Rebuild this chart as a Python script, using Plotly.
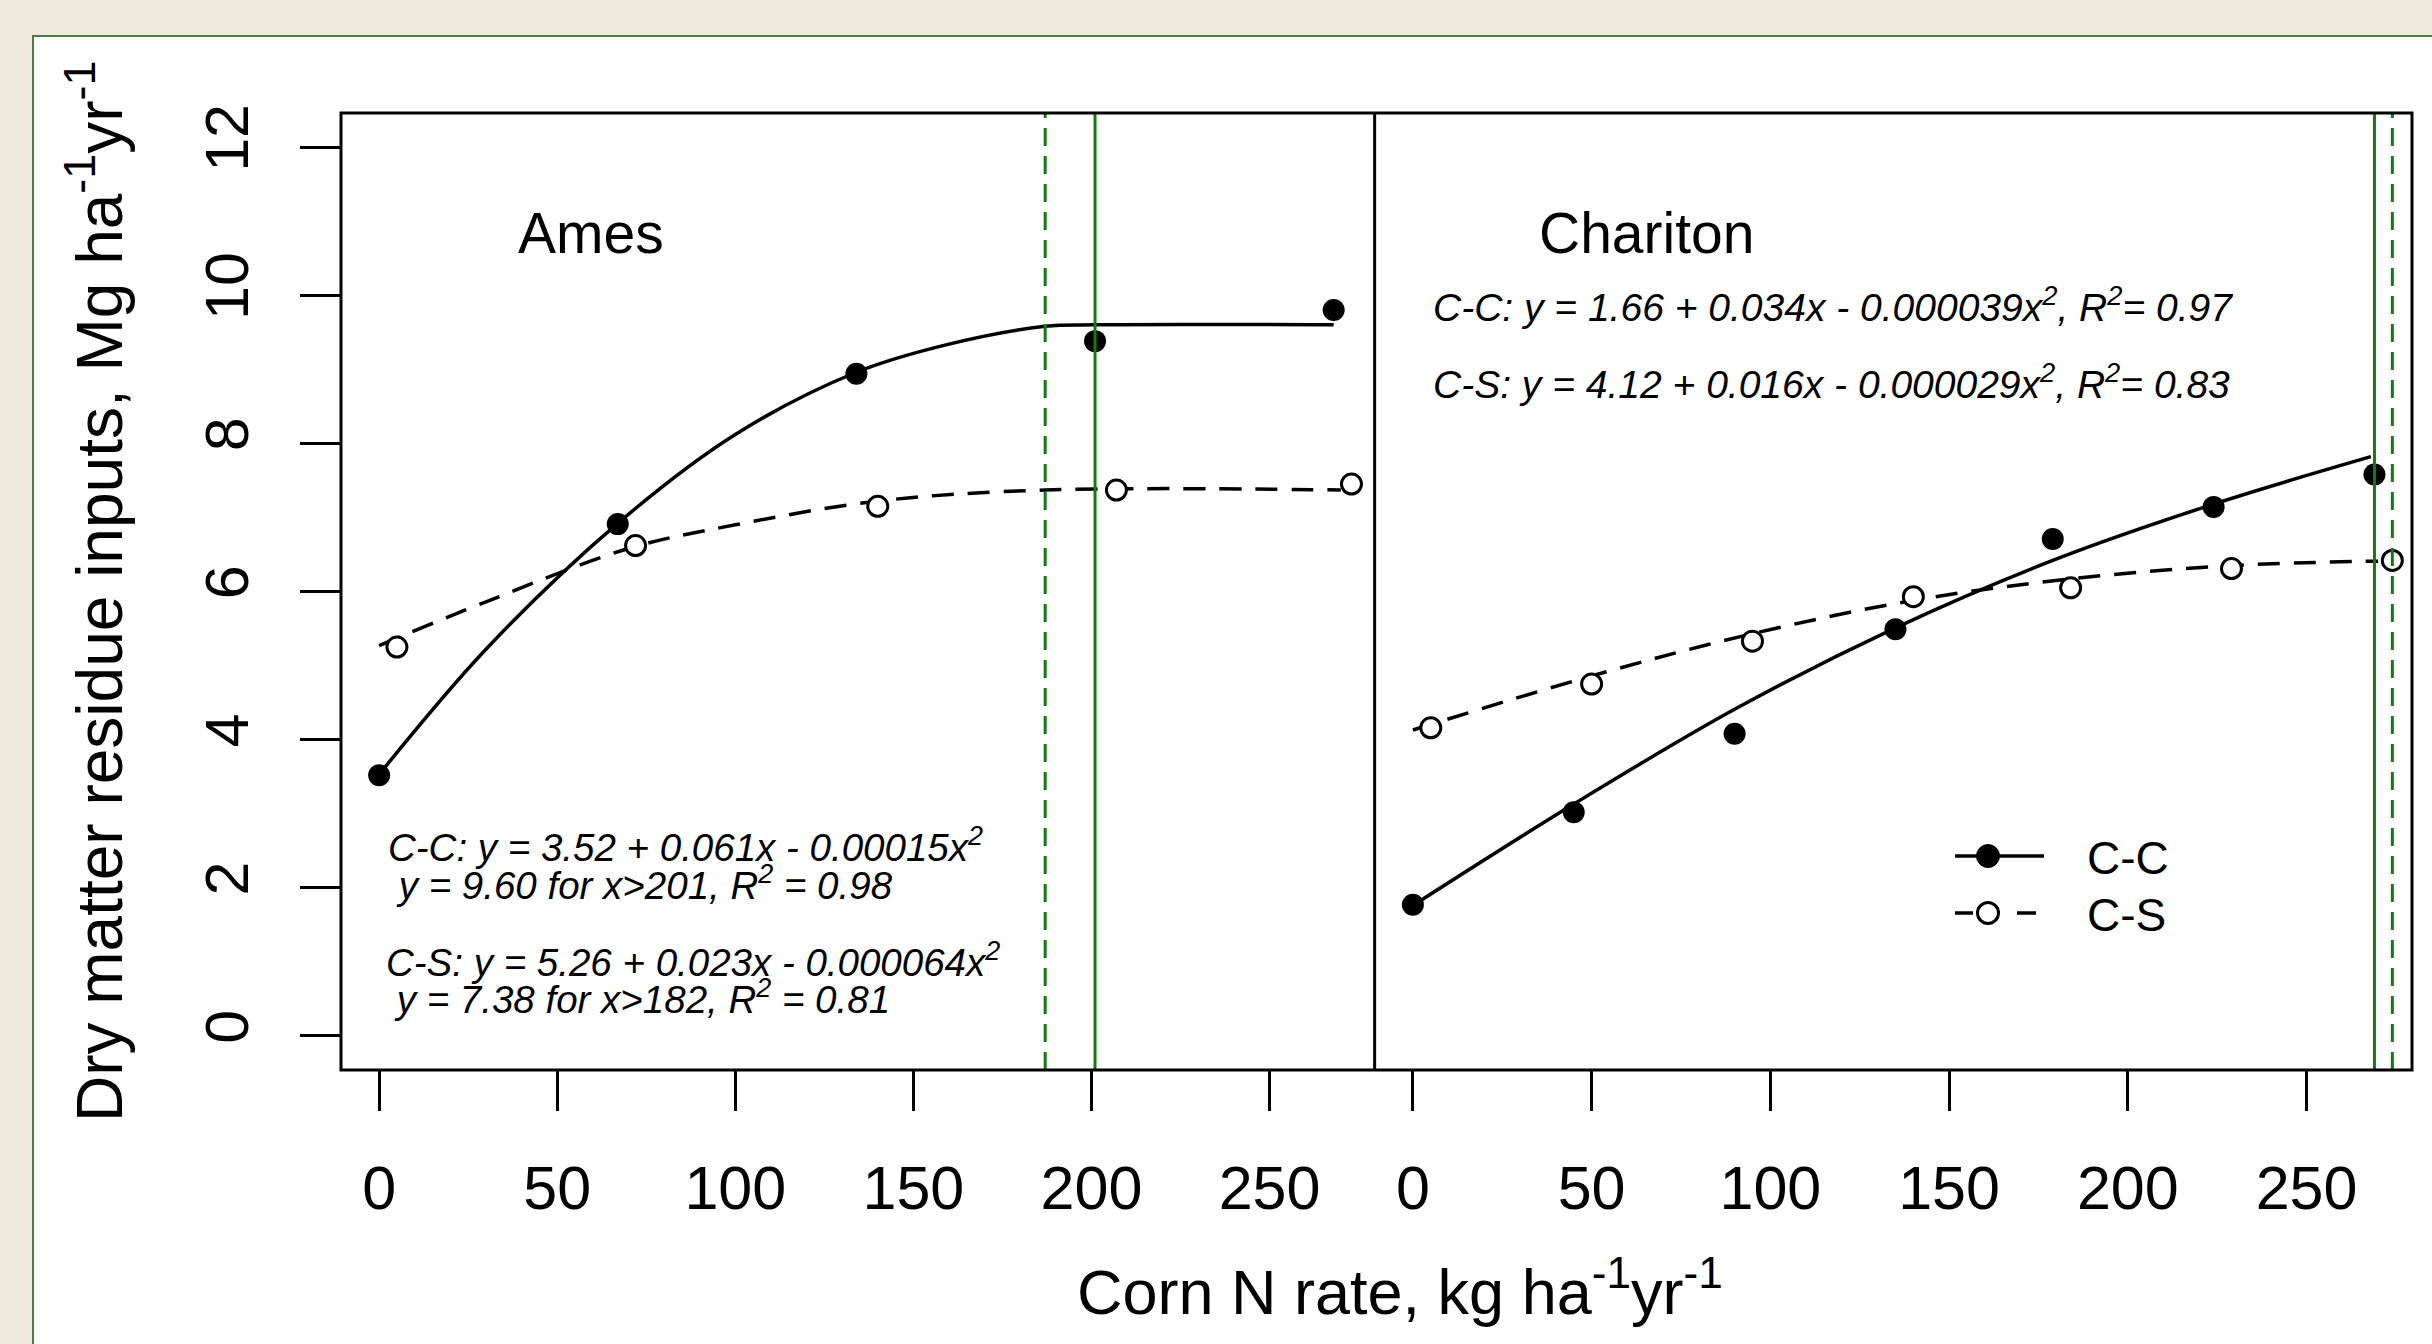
import plotly.graph_objects as go

# ---------------- data ----------------
x_ticks = [0, 50, 100, 150, 200, 250]
y_ticks = [0, 2, 4, 6, 8, 10, 12]

# observed points (C-S points are drawn slightly offset to the right)
ames_cc_n = [0, 67, 134, 201, 268]
ames_cc_y = [3.52, 6.91, 8.94, 9.38, 9.80]
ames_cs_n = [5, 72, 140, 207, 273]
ames_cs_y = [5.25, 6.62, 7.15, 7.37, 7.45]

char_cc_n = [0, 45, 90, 135, 179, 224, 269]
char_cc_y = [1.77, 3.02, 4.08, 5.49, 6.71, 7.14, 7.58]
char_cs_n = [5, 50, 95, 140, 184, 229, 274]
char_cs_y = [4.16, 4.75, 5.33, 5.93, 6.05, 6.31, 6.42]

# fitted response curves
ames_cc_fit_n = [0, 30, 67, 100, 134, 160, 187, 201, 268]
ames_cc_fit_y = [3.53, 5.22, 6.92, 8.12, 8.96, 9.34, 9.58, 9.60, 9.60]
ames_cs_fit_n = [0, 30, 70, 100, 140, 187, 270]
ames_cs_fit_y = [5.27, 5.86, 6.58, 6.90, 7.22, 7.37, 7.37]

char_cc_fit_n = [0, 45, 90, 135, 179, 224, 268]
char_cc_fit_y = [1.76, 3.13, 4.41, 5.51, 6.42, 7.18, 7.82]
char_cs_fit_n = [0, 50, 95, 140, 184, 229, 270]
char_cs_fit_y = [4.13, 4.86, 5.43, 5.88, 6.17, 6.35, 6.41]

# vertical green reference lines (N rates)
ames_cc_vline = 201
ames_cs_vline = 187
char_cc_vline = 269
char_cs_vline = 274

legend_names = ["C-C", "C-S"]

ames_eq = ["C-C: y = 3.52 + 0.061x - 0.00015x<sup>2</sup>",
           " y = 9.60 for x>201, R<sup>2</sup> = 0.98",
           "C-S: y = 5.26 + 0.023x - 0.000064x<sup>2</sup>",
           " y = 7.38 for x>182, R<sup>2</sup> = 0.81"]
char_eq = ["C-C: y = 1.66 + 0.034x - 0.000039x<sup>2</sup>, R<sup>2</sup>= 0.97",
           "C-S: y = 4.12 + 0.016x - 0.000029x<sup>2</sup>, R<sup>2</sup>= 0.83"]

# ---------------- styling ----------------
FONT = "Liberation Sans, Arial, sans-serif"
BLACK = "#000000"
GREEN = "#147a14"
W, H = 2432, 1344
ML, MR, MT, MB = 341, 20, 113, 274
PW, PH = W - ML - MR, H - MT - MB
SPLIT = 0.4991
XR = [-10.7, 279.5]
YR = [-0.46, 12.46]
DASH = "22px,14px"


def px_x(px):
    return (px - ML) / PW


def px_y(py):
    return (H - MB - py) / PH


fig = go.Figure()


def curve(x, y, xa, dash):
    fig.add_trace(go.Scatter(x=x, y=y, xaxis=xa, yaxis="y", mode="lines",
                             line=dict(color=BLACK, width=3.5, dash=dash, shape="spline"),
                             showlegend=False, hoverinfo="skip"))


def pts(x, y, xa, filled):
    if filled:
        mk = dict(symbol="circle", size=22, color=BLACK, line=dict(width=0))
    else:
        mk = dict(symbol="circle", size=20, color="white", line=dict(width=3, color=BLACK))
    fig.add_trace(go.Scatter(x=x, y=y, xaxis=xa, yaxis="y", mode="markers",
                             marker=mk, showlegend=False))


curve(ames_cc_fit_n, ames_cc_fit_y, "x", "solid")
curve(ames_cs_fit_n, ames_cs_fit_y, "x", DASH)
curve(char_cc_fit_n, char_cc_fit_y, "x2", "solid")
curve(char_cs_fit_n, char_cs_fit_y, "x2", DASH)
pts(ames_cc_n, ames_cc_y, "x", True)
pts(ames_cs_n, ames_cs_y, "x", False)
pts(char_cc_n, char_cc_y, "x2", True)
pts(char_cs_n, char_cs_y, "x2", False)

shapes = []
# white panel with thin green frame on beige background
shapes.append(dict(type="rect", xref="paper", yref="paper", layer="below",
                   x0=px_x(33), x1=1.2, y0=-0.5, y1=px_y(36),
                   fillcolor="white", line=dict(color="#4f7a3f", width=2)))
# green reference lines
for xa, v, d in [("x", ames_cs_vline, "18px,10px"), ("x", ames_cc_vline, "solid"),
                 ("x2", char_cc_vline, "solid"), ("x2", char_cs_vline, "18px,10px")]:
    shapes.append(dict(type="line", xref=xa, yref="paper", x0=v, x1=v, y0=0, y1=1,
                       line=dict(color=GREEN, width=3, dash=d)))
# plot box and panel divider
shapes.append(dict(type="rect", xref="paper", yref="paper", x0=0, x1=1, y0=0, y1=1,
                   line=dict(color=BLACK, width=3)))
shapes.append(dict(type="line", xref="paper", yref="paper", x0=SPLIT, x1=SPLIT, y0=0, y1=1,
                   line=dict(color=BLACK, width=3)))

# ---- hand-drawn legend (R style) ----
LEG_Y = [856, 913]
shapes.append(dict(type="line", xref="paper", yref="paper", x0=px_x(1955), x1=px_x(2044),
                   y0=px_y(LEG_Y[0]), y1=px_y(LEG_Y[0]), line=dict(color=BLACK, width=3.5)))
for a, b in [(1955, 1973), (2017, 2036)]:
    shapes.append(dict(type="line", xref="paper", yref="paper", x0=px_x(a), x1=px_x(b),
                       y0=px_y(LEG_Y[1]), y1=px_y(LEG_Y[1]), line=dict(color=BLACK, width=3.5)))
shapes.append(dict(type="circle", xref="paper", yref="paper", xsizemode="pixel", ysizemode="pixel",
                   xanchor=px_x(1988), yanchor=px_y(LEG_Y[0]), x0=-11.5, x1=11.5, y0=-11.5, y1=11.5,
                   fillcolor=BLACK, line=dict(color=BLACK, width=1)))
shapes.append(dict(type="circle", xref="paper", yref="paper", xsizemode="pixel", ysizemode="pixel",
                   xanchor=px_x(1988), yanchor=px_y(LEG_Y[1]), x0=-10.5, x1=10.5, y0=-10.5, y1=10.5,
                   fillcolor="white", line=dict(color=BLACK, width=3)))

ann = []
for name, yy in zip(legend_names, [858, 915]):
    ann.append(dict(text=name, xref="paper", yref="paper", x=px_x(2085), y=px_y(yy), showarrow=False,
                    xanchor="left", yanchor="middle", font=dict(size=46, color=BLACK, family=FONT)))

ann.append(dict(text="Ames", xref="x", yref="y", x=59.6, y=10.84, showarrow=False,
                xanchor="center", yanchor="middle", font=dict(size=57, color=BLACK, family=FONT)))
ann.append(dict(text="Chariton", xref="x2", yref="y", x=65.3, y=10.84, showarrow=False,
                xanchor="center", yanchor="middle", font=dict(size=57, color=BLACK, family=FONT)))
for txt, xx, yy in zip(ames_eq, [2.0, 2.0, 1.3, 1.3], [2.58, 2.06, 1.03, 0.53]):
    ann.append(dict(text="<i>" + txt + "</i>", xref="x", yref="y", x=xx, y=yy, showarrow=False,
                    xanchor="left", yanchor="middle", font=dict(size=38.5, color=BLACK, family=FONT)))
for txt, yy in zip(char_eq, [9.87, 8.84]):
    ann.append(dict(text="<i>" + txt + "</i>", xref="x2", yref="y", x=5.1, y=yy, showarrow=False,
                    xanchor="left", yanchor="middle", font=dict(size=39, color=BLACK, family=FONT)))
# axis titles
ann.append(dict(text="Dry matter residue inputs, Mg ha<sup>-1</sup>yr<sup>-1</sup>",
                xref="paper", yref="paper", x=px_x(95), y=px_y(592),
                textangle=-90, showarrow=False, xanchor="center", yanchor="middle",
                font=dict(size=64, color=BLACK, family=FONT)))
ann.append(dict(text="Corn N rate, kg ha<sup>-1</sup>yr<sup>-1</sup>",
                xref="paper", yref="paper", x=px_x(1400), y=px_y(1287),
                showarrow=False, xanchor="center", yanchor="middle",
                font=dict(size=63, color=BLACK, family=FONT)))

xcommon = dict(range=XR, tickvals=x_ticks, ticks="outside", ticklen=40, tickwidth=3,
               tickcolor=BLACK, showgrid=False, zeroline=False, showline=False,
               tickfont=dict(size=61, color=BLACK, family=FONT), ticklabelstandoff=25)

fig.update_layout(
    width=W, height=H,
    margin=dict(l=ML, r=MR, t=MT, b=MB, pad=0),
    paper_bgcolor="#f0e9dd", plot_bgcolor="white",
    xaxis=dict(domain=[0, SPLIT], anchor="y", **xcommon),
    xaxis2=dict(domain=[SPLIT, 1], anchor="y", **xcommon),
    yaxis=dict(range=YR, tickvals=y_ticks, ticks="outside", ticklen=40, tickwidth=3,
               tickcolor=BLACK, showgrid=False, zeroline=False, showline=False, tickangle=-90,
               tickfont=dict(size=61, color=BLACK, family=FONT), ticklabelstandoff=28),
    shapes=shapes, annotations=ann,
    showlegend=False,
)

fig.write_html("out.html", config={"displayModeBar": False},
               post_script="document.body.style.margin='0px';document.body.style.overflow='hidden';")
